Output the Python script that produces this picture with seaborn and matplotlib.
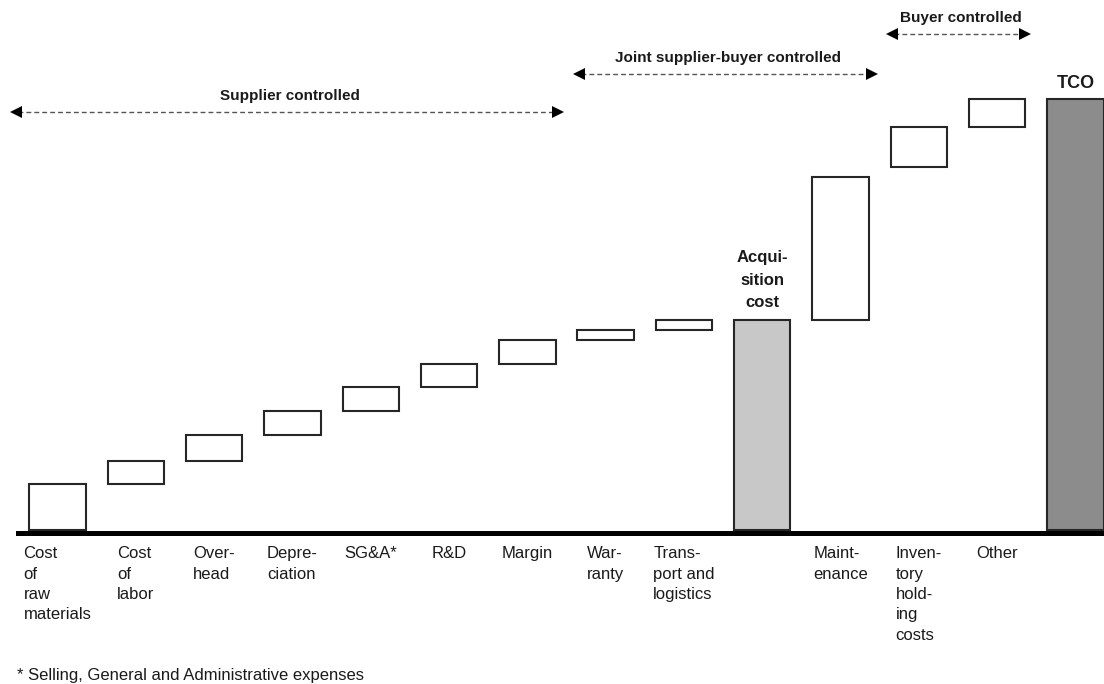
import matplotlib
matplotlib.use("Agg")
import matplotlib.pyplot as plt
import seaborn as sns
import pandas as pd

# ---- data -----------------------------------------------------------------
items = ["Raw materials", "Labor", "Overhead", "Depreciation", "SG&A", "R&D",
         "Margin", "Warranty", "Transport", "Acquisition cost", "Maintenance",
         "Inventory holding", "Other", "TCO"]
tick_labels = ["Cost\nof\nraw\nmaterials", "Cost\nof\nlabor", "Over-\nhead",
               "Depre-\nciation", "SG&A*", "R&D", "Margin", "War-\nranty",
               "Trans-\nport and\nlogistics", "", "Maint-\nenance",
               "Inven-\ntory\nhold-\ning\ncosts", "Other", ""]
# cost level where each bar starts and ends (index units)
seg_start = [0, 46, 69, 95, 119, 143, 166, 190, 200, 0, 210, 363, 403, 0]
seg_end = [46, 69, 95, 119, 143, 166, 190, 200, 210, 210, 353, 403, 431, 431]
bar_kind = ["step"] * 9 + ["subtotal"] + ["step"] * 3 + ["total"]

groups = ["Supplier controlled", "Joint supplier-buyer controlled", "Buyer controlled"]
footnote = "* Selling, General and Administrative expenses"

# ---- styling ----------------------------------------------------------------
sns.set_style("white")
plt.rcParams["font.family"] = ["Liberation Sans", "DejaVu Sans"]
TEXT = "#1a1a1a"
kind_fill = {"step": "white", "subtotal": "#c8c8c8", "total": "#8c8c8c"}

df = pd.DataFrame({
    "item": items,
    "height": [e - s for s, e in zip(seg_start, seg_end)],
})

W, H = 1104, 684
fig = plt.figure(figsize=(W / 100, H / 100), dpi=100)
ax = fig.add_axes([18 / W, (H - 532.5) / H, (W - 18) / W, 532.5 / H])

sns.barplot(data=df, x="item", y="height", order=items, errorbar=None,
            width=0.72, color="white", ax=ax,
            bottom=seg_start,
            facecolor=[kind_fill[k] for k in bar_kind],
            edgecolor="#262626", linewidth=1.5)

ax.set_xlim(-0.505, 13.365)
ax.set_ylim(-2.5, 530)
for side in ("left", "top", "right"):
    ax.spines[side].set_visible(False)
ax.spines["bottom"].set_linewidth(3.6)
ax.spines["bottom"].set_color("black")
ax.set_yticks([])
ax.set_xlabel("")
ax.set_ylabel("")
ax.set_xticks(range(len(items)))
ax.set_xticklabels(tick_labels, fontsize=12, color=TEXT,
                   multialignment="left", linespacing=1.44)
ax.tick_params(axis="x", length=0, pad=10)

# labels above the subtotal and total bars
i_acq = items.index("Acquisition cost")
ax.annotate("Acqui-\nsition\ncost", xy=(i_acq, seg_end[i_acq]),
            xytext=(0, 9.5), textcoords="offset points",
            ha="center", va="baseline", multialignment="center",
            fontsize=12, fontweight="bold", color=TEXT, linespacing=1.6)
i_tco = items.index("TCO")
ax.annotate("TCO", xy=(i_tco, seg_end[i_tco]),
            xytext=(0, 8), textcoords="offset points",
            ha="center", va="baseline", fontsize=13, fontweight="bold",
            color=TEXT)

# overlay in pixel units for the control-range arrows and footnote
ov = fig.add_axes([0, 0, 1, 1], facecolor="none")
ov.set_xlim(0, W)
ov.set_ylim(H, 0)
ov.axis("off")

spans = [(10, 563, 112, 100), (573, 877, 74, 62), (886, 1030, 34, 22)]
for name, (x0, x1, y, ty) in zip(groups, spans):
    ov.plot([x0 + 8, x1 - 8], [y, y], color="#555555", lw=1.0,
            linestyle=(0, (3.5, 2.2)), solid_capstyle="butt")
    ov.plot([x0 + 5.5], [y], marker="<", markersize=8.5, color="black",
            markeredgewidth=0)
    ov.plot([x1 - 5.5], [y], marker=">", markersize=8.5, color="black",
            markeredgewidth=0)
    ov.text((x0 + x1) / 2 + 3, ty, name, ha="center", va="baseline",
            fontsize=11, fontweight="bold", color=TEXT)

ov.text(17, 680, footnote, ha="left", va="baseline", fontsize=12, color=TEXT)

fig.savefig("out.png", dpi=100)
